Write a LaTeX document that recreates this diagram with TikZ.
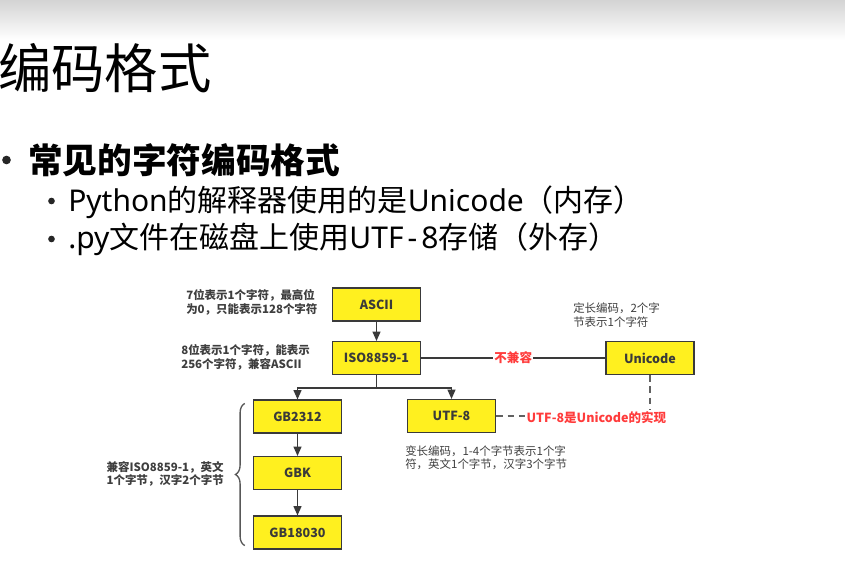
\documentclass[tikz,border=0pt]{standalone}
\usepackage{fontspec}
\setmainfont{Noto Sans CJK SC}
\newfontfamily\lat{Noto Sans}
\usetikzlibrary{arrows.meta,decorations.pathreplacing,calc}
\definecolor{boxyellow}{HTML}{FFF01F}
\definecolor{edge}{HTML}{3A3A3A}
\definecolor{lbl}{HTML}{FF3B3B}
\definecolor{note}{HTML}{3E3E3E}
\begin{document}
\begin{tikzpicture}[x=0.75pt,y=-0.75pt,
  codebox/.style={draw=edge, line width=1.1pt, fill=boxyellow, minimum width=66pt, minimum height=24.5pt, inner sep=0pt, font=\fontsize{9.4}{11}\selectfont\bfseries, text=edge},
  notetxt/.style={align=left, inner sep=0pt, text=note, font=\fontsize{8.6}{10}\selectfont\bfseries},
  redlbl/.style={inner sep=1pt, text=lbl, font=\fontsize{9.4}{12}\selectfont\bfseries},
  arr/.style={draw=edge, line width=0.9pt, -{Triangle[width=6pt,length=7pt]}},
  plain/.style={draw=edge, line width=0.9pt},
  dashln/.style={draw=edge!80, line width=1.1pt, dash pattern=on 5pt off 3.5pt},
  dot/.style={circle, fill=black!85, inner sep=0pt}]
\useasboundingbox (0,0) rectangle (845,560);
\shade[top color=black!17, bottom color=white] (0,0) rectangle (845,40);
% title and bullets
\node[anchor=west, inner sep=0pt, font=\fontsize{40}{44}\selectfont] (title) at (-2,68) {编码格式};
\node[dot, minimum size=6.5pt] (b1) at (6.5,160) {};
\node[anchor=west, inner sep=0pt, font=\fontsize{26}{30}\selectfont\bfseries] (t1) at (28,160) {常见的字符编码格式};
\node[dot, minimum size=5pt] (b2) at (51.5,201) {};
\node[anchor=west, inner sep=0pt, font=\fontsize{22.5}{26}\selectfont] (t2) at (68,202) {{\lat Python}的解释器使用的是{\lat Unicode}（内存）};
\node[dot, minimum size=5pt] (b3) at (51.5,239) {};
\node[anchor=west, inner sep=0pt, font=\fontsize{22.5}{26}\selectfont] (t3) at (68,239) {{\lat .py}文件在磁盘上使用{\lat UTF\kern3pt-\kern3pt8}存储（外存）};
% boxes
\node[codebox] (ascii) at (376.5,304.5) {ASCII};
\node[codebox] (iso) at (376.5,358) {ISO8859-1};
\node[codebox] (uni) at (650,358) {Unicode};
\node[codebox] (utf) at (451.5,416) {UTF-8};
\node[codebox] (gb1) at (297.5,416.5) {GB2312};
\node[codebox] (gbk) at (297.5,473) {GBK};
\node[codebox] (gb3) at (297.5,532.5) {GB18030};
% notes
\node[notetxt, anchor=west] (nascii) at (186,302.5) {7位表示1个字符，最高位\\为0，只能表示128个字符};
\node[notetxt, anchor=west] (niso) at (181,357.5) {8位表示1个字符，能表示\\256个字符，兼容ASCII};
\node[notetxt, anchor=west, font=\fontsize{8.6}{10}\selectfont] (nuni) at (573,315) {定长编码，2个字\\节表示1个字符};
\node[notetxt, anchor=west, font=\fontsize{8.6}{10}\selectfont] (nutf) at (405,458) {变长编码，1-4个字节表示1个字\\符，英文1个字节，汉字3个字节};
\node[notetxt, anchor=east] (ngb) at (224,474) {兼容ISO8859-1，英文\\1个字节，汉字2个字节};
\node[redlbl, anchor=west] (impl) at (525,418) {UTF-8是Unicode的实现};
% connectors
\draw[arr] (ascii) -- (iso);
\coordinate (br) at ($(iso.south)+(0,13)$);
\draw[plain] (iso.south) -- (br);
\draw[arr] (br) -| (gb1.north);
\draw[arr] (br) -| (utf.north);
\draw[arr] (gb1) -- (gbk);
\draw[arr] (gbk) -- (gb3);
\draw[plain] (iso) -- node[redlbl, fill=white] (nc) {不兼容} (uni);
\draw[dashln] (utf.east) -- (utf.east -| impl.west);
\draw[dashln] (uni.south) -- (uni.south |- impl.north);
\draw[draw=edge!85, line width=1pt, decorate, decoration={brace, amplitude=7pt}]
  ($(gb3.south west)+(-8,-4)$) -- ($(gb1.north west)+(-8,4)$);
\end{tikzpicture}
\end{document}
